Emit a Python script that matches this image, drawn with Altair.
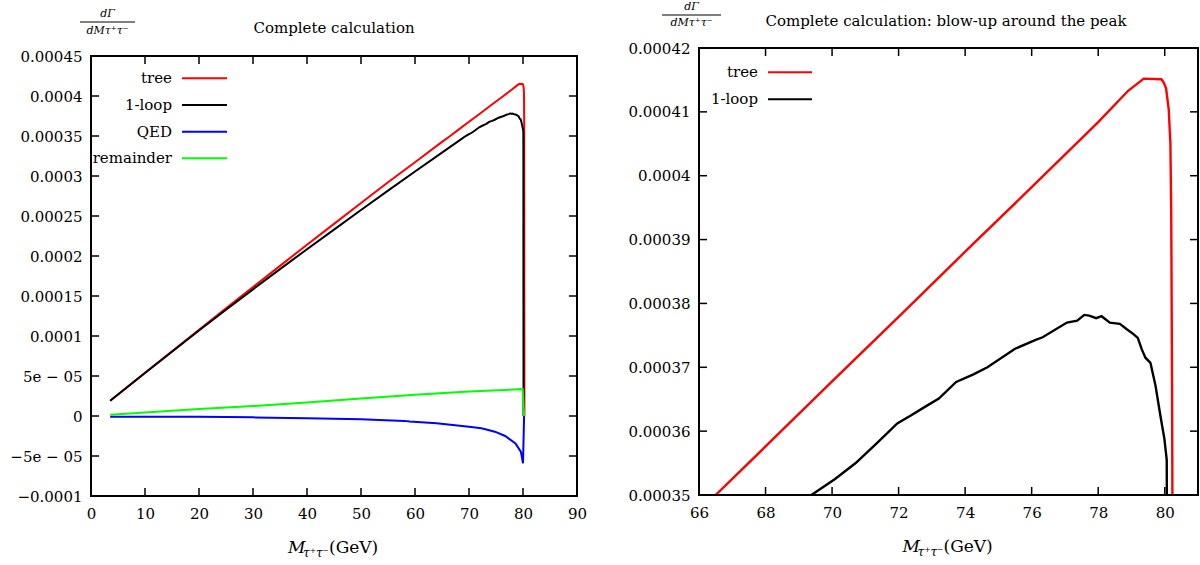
import json
import altair as alt
import pandas as pd

# ---------------- data ----------------
series_names = ["tree", "1-loop", "QED", "remainder"]
series_colors = ["#ff0000", "#000000", "#0000ff", "#00ff00"]

tree_x = [3.55, 5, 10, 15, 20, 25, 30, 35, 40, 45, 50, 55, 60, 65, 66.5, 68, 70, 72, 74, 76, 78,
          78.9, 79.37, 79.9, 79.97, 80.04, 80.12, 80.17, 80.195, 80.22, 80.23, 80.25, 80.26]
tree_y = [1.9e-5, 2.69e-5, 5.40e-5, 8.10e-5, 1.079e-4, 1.347e-4, 1.6125e-4, 1.877e-4, 2.141e-4,
          2.402e-4, 2.663e-4, 2.922e-4, 3.172e-4, 3.426e-4, 3.500e-4, 3.576e-4, 3.678e-4, 3.779e-4,
          3.881e-4, 3.982e-4, 4.084e-4, 4.133e-4, 4.152e-4, 4.151e-4, 4.146e-4, 4.137e-4, 4.104e-4,
          4.051e-4, 3.943e-4, 3.673e-4, 3.511e-4, 1.5e-4, 0.0]

loop_x = [3.55, 5, 10, 15, 20, 25, 30, 35, 40, 45, 50, 55, 60, 65, 68.5, 69.38, 70.09, 70.71,
          71.34, 71.96, 72.38, 72.79, 73.21, 73.73, 74.25, 74.67, 75.50, 76.12, 76.33, 77.06, 77.37,
          77.58, 77.73, 77.94, 78.10, 78.35, 78.65, 78.85, 79.06, 79.19, 79.31, 79.42, 79.57, 79.72,
          79.87, 79.99, 80.06, 80.07, 80.08, 80.1]
loop_y = [1.9e-5, 2.69e-5, 5.38e-5, 8.04e-5, 1.068e-4, 1.328e-4, 1.583e-4, 1.836e-4, 2.085e-4,
          2.330e-4, 2.575e-4, 2.817e-4, 3.056e-4, 3.292e-4, 3.457e-4, 3.500e-4, 3.525e-4, 3.550e-4,
          3.581e-4, 3.612e-4, 3.625e-4, 3.638e-4, 3.651e-4, 3.677e-4, 3.689e-4, 3.700e-4, 3.729e-4,
          3.743e-4, 3.747e-4, 3.770e-4, 3.773e-4, 3.782e-4, 3.781e-4, 3.777e-4, 3.780e-4, 3.770e-4,
          3.768e-4, 3.760e-4, 3.752e-4, 3.746e-4, 3.728e-4, 3.715e-4, 3.707e-4, 3.672e-4, 3.624e-4,
          3.588e-4, 3.555e-4, 3.40e-4, 1.5e-4, 0.0]

qed_x = [3.55, 10, 20, 30, 40, 50, 58, 59, 64, 70, 72.3, 74.8, 76.7, 78.6, 79.6, 80.0, 80.1, 80.2]
qed_y = [-8e-7, -8e-7, -8e-7, -1.7e-6, -2.9e-6, -4.2e-6, -6.1e-6, -6.8e-6, -9.2e-6, -1.33e-5,
         -1.54e-5, -1.96e-5, -2.5e-5, -3.42e-5, -4.46e-5, -5.9e-5, -3.0e-5, 0.0]

rem_x = [3.55, 10, 20, 30, 40, 50, 60, 70, 79.95, 80.2]
rem_y = [1.6e-6, 4.4e-6, 8.6e-6, 1.25e-5, 1.7e-5, 2.18e-5, 2.65e-5, 3.05e-5, 3.37e-5, 0.0]

left_x_ticks = [0, 10, 20, 30, 40, 50, 60, 70, 80, 90]
left_y_ticks = [-0.0001, -0.00005, 0, 0.00005, 0.0001, 0.00015, 0.0002, 0.00025, 0.0003,
                0.00035, 0.0004, 0.00045]
left_y_labels = ["−0.0001", "−5e − 05", "0", "5e − 05", "0.0001", "0.00015", "0.0002",
                 "0.00025", "0.0003", "0.00035", "0.0004", "0.00045"]
right_x_ticks = [66, 68, 70, 72, 74, 76, 78, 80]
right_y_ticks = [0.00035, 0.00036, 0.00037, 0.00038, 0.00039, 0.0004, 0.00041, 0.00042]
right_y_labels = ["0.00035", "0.00036", "0.00037", "0.00038", "0.00039", "0.0004",
                  "0.00041", "0.00042"]

left_title = "Complete calculation"
right_title = "Complete calculation: blow-up around the peak"
x_title_main = "M"
x_title_sub = "τ⁺τ⁻"
x_title_unit = "(GeV)"
frac_num = "dΓ"
frac_den = "dMτ⁺τ⁻"

rows = []
for name, xs, ys in [("tree", tree_x, tree_y), ("1-loop", loop_x, loop_y),
                     ("QED", qed_x, qed_y), ("remainder", rem_x, rem_y)]:
    for i, (xv, yv) in enumerate(zip(xs, ys)):
        rows.append({"series": name, "m": xv, "v": yv, "i": i})
df = pd.DataFrame(rows)

FONT = "DejaVu Serif"
FS = 15


def one(text):
    return pd.DataFrame({"t": [text]})


def label(text, x, y, size, align="center", style="normal"):
    return alt.Chart(one(text)).mark_text(align=align, baseline="middle", font=FONT, fontSize=size,
                                          fontStyle=style, color="black").encode(
        x=alt.value(x), y=alt.value(y), text="t:N")


def panel(data, xdom, xticks, ydom, yticks, ylabels, w, h, off, title, title_pos,
          legend_names, leg_lx, leg_r0, leg_r1, leg_y, frac, spacers, sw):
    H = h + off  # view height; the plot box occupies [off, H]
    xscale = alt.Scale(domain=xdom, nice=False, zero=False)
    yscale = alt.Scale(domain=ydom, nice=False, zero=False, range=[H, off])
    label_expr = json.dumps(ylabels, ensure_ascii=False) + "[indexof(" + json.dumps(yticks) + ", datum.value)]"
    color = alt.Color("series:N", scale=alt.Scale(domain=series_names, range=series_colors), legend=None)
    xaxis = alt.Axis(values=xticks, ticks=False, domain=False, grid=False, format="d", labelFlush=False,
                     labelFont=FONT, labelFontSize=FS, labelPadding=10, labelColor="black", title=None)

    lines = alt.Chart(data).mark_line(clip=True, strokeWidth=sw).encode(
        x=alt.X("m:Q", scale=xscale, axis=xaxis),
        y=alt.Y("v:Q", scale=yscale,
                axis=alt.Axis(values=yticks, labelExpr=label_expr, ticks=False, domain=False, grid=False,
                              labelFlush=False, labelFont=FONT, labelFontSize=FS, labelPadding=9,
                              labelColor="black", title=None)),
        color=color,
        order=alt.Order("i:Q"),
    )

    frame = alt.Chart(one("frame")).mark_rect(fillOpacity=0, stroke="black", strokeWidth=2).encode(
        x=alt.value(0), x2=alt.value(w), y=alt.value(off), y2=alt.value(H))

    xt = pd.DataFrame({"m": xticks})
    yt = pd.DataFrame({"t": yticks})
    tl = 8
    xb = alt.Chart(xt).mark_rule(color="black", strokeWidth=1.5).encode(
        x=alt.X("m:Q", scale=xscale, axis=xaxis), y=alt.value(H), y2=alt.value(H - tl))
    xtp = alt.Chart(xt).mark_rule(color="black", strokeWidth=1.5).encode(
        x=alt.X("m:Q", scale=xscale, axis=xaxis), y=alt.value(off), y2=alt.value(off + tl))
    yl = alt.Chart(yt).mark_rule(color="black", strokeWidth=1.5).encode(
        y=alt.Y("t:Q", scale=yscale, axis=None), x=alt.value(0), x2=alt.value(tl))
    yr = alt.Chart(yt).mark_rule(color="black", strokeWidth=1.5).encode(
        y=alt.Y("t:Q", scale=yscale, axis=None), x=alt.value(w), x2=alt.value(w - tl))

    leg = pd.DataFrame({"series": legend_names})
    yleg = alt.Y("series:N", scale=alt.Scale(type="point", domain=legend_names,
                                             range=[leg_y[0] + off, leg_y[1] + off], padding=0),
                 axis=None)
    leg_text = alt.Chart(leg).mark_text(align="right", baseline="middle", font=FONT, fontSize=FS,
                                        color="black").encode(x=alt.value(leg_lx), y=yleg, text="series:N")
    leg_rule = alt.Chart(leg).mark_rule(strokeWidth=2).encode(
        x=alt.value(leg_r0), x2=alt.value(leg_r1), y=yleg, color=color)

    ttl = label(title, title_pos[0], title_pos[1] + off, FS)

    cx = w / 2
    xt_m = label(x_title_main, cx - 46, H + 52, 17, align="left", style="italic")
    xt_s = label(x_title_sub, cx - 31, H + 57, 12, align="left", style="italic")
    xt_u = label(x_title_unit, cx - 5, H + 52, 17, align="left")

    fcx, fny, fby, fdy, fb0, fb1 = frac
    fnum = label(frac_num, fcx, fny + off, 11, style="italic")
    fden = label(frac_den, fcx, fdy + off, 11, style="italic")
    fbar = alt.Chart(one("bar")).mark_rule(color="black", strokeWidth=1).encode(
        x=alt.value(fb0), x2=alt.value(fb1), y=alt.value(fby + off))

    sp_layers = []
    for sx, sy in spacers:
        sp_layers.append(alt.Chart(one(".")).mark_text(align="left", baseline="top", fontSize=1,
                                                       opacity=0).encode(
            x=alt.value(sx), y=alt.value(sy), text="t:N"))

    return alt.layer(lines, xb, xtp, yl, yr, frame, leg_rule, leg_text, ttl, xt_m, xt_s, xt_u,
                     fnum, fden, fbar, *sp_layers).resolve_scale(y="independent").properties(width=w, height=H)


LW, LH, LOFF = 486, 440, 8
RW, RH = 499, 447

left = panel(df, [0, 90], left_x_ticks, [-0.0001, 0.00045], left_y_ticks, left_y_labels, LW, LH, LOFF,
             left_title, (243, -28), series_names, 81, 91, 136, [22.3, 102.3],
             (16.5, -42, -34, -25, -11, 44), [(-91, -48), (LW + 18, 0)], 2)

right_df = df[df["series"].isin(["tree", "1-loop"])]
right = panel(right_df, [66, 81], right_x_ticks, [0.00035, 0.00042], right_y_ticks, right_y_labels,
              RW, RH, 0, right_title, (247, -27), ["tree", "1-loop"], 59, 69, 113, [24.3, 51.3],
              (-7.5, -41, -33, -25, -37, 22), [(-103, -48)], 2.4)

chart = alt.hconcat(left, right, spacing=0).properties(
    padding={"left": 0, "top": 0, "right": 0, "bottom": 0}
).configure_view(stroke=None)

chart.save("out.html", embed_options={"renderer": "svg", "actions": False})
